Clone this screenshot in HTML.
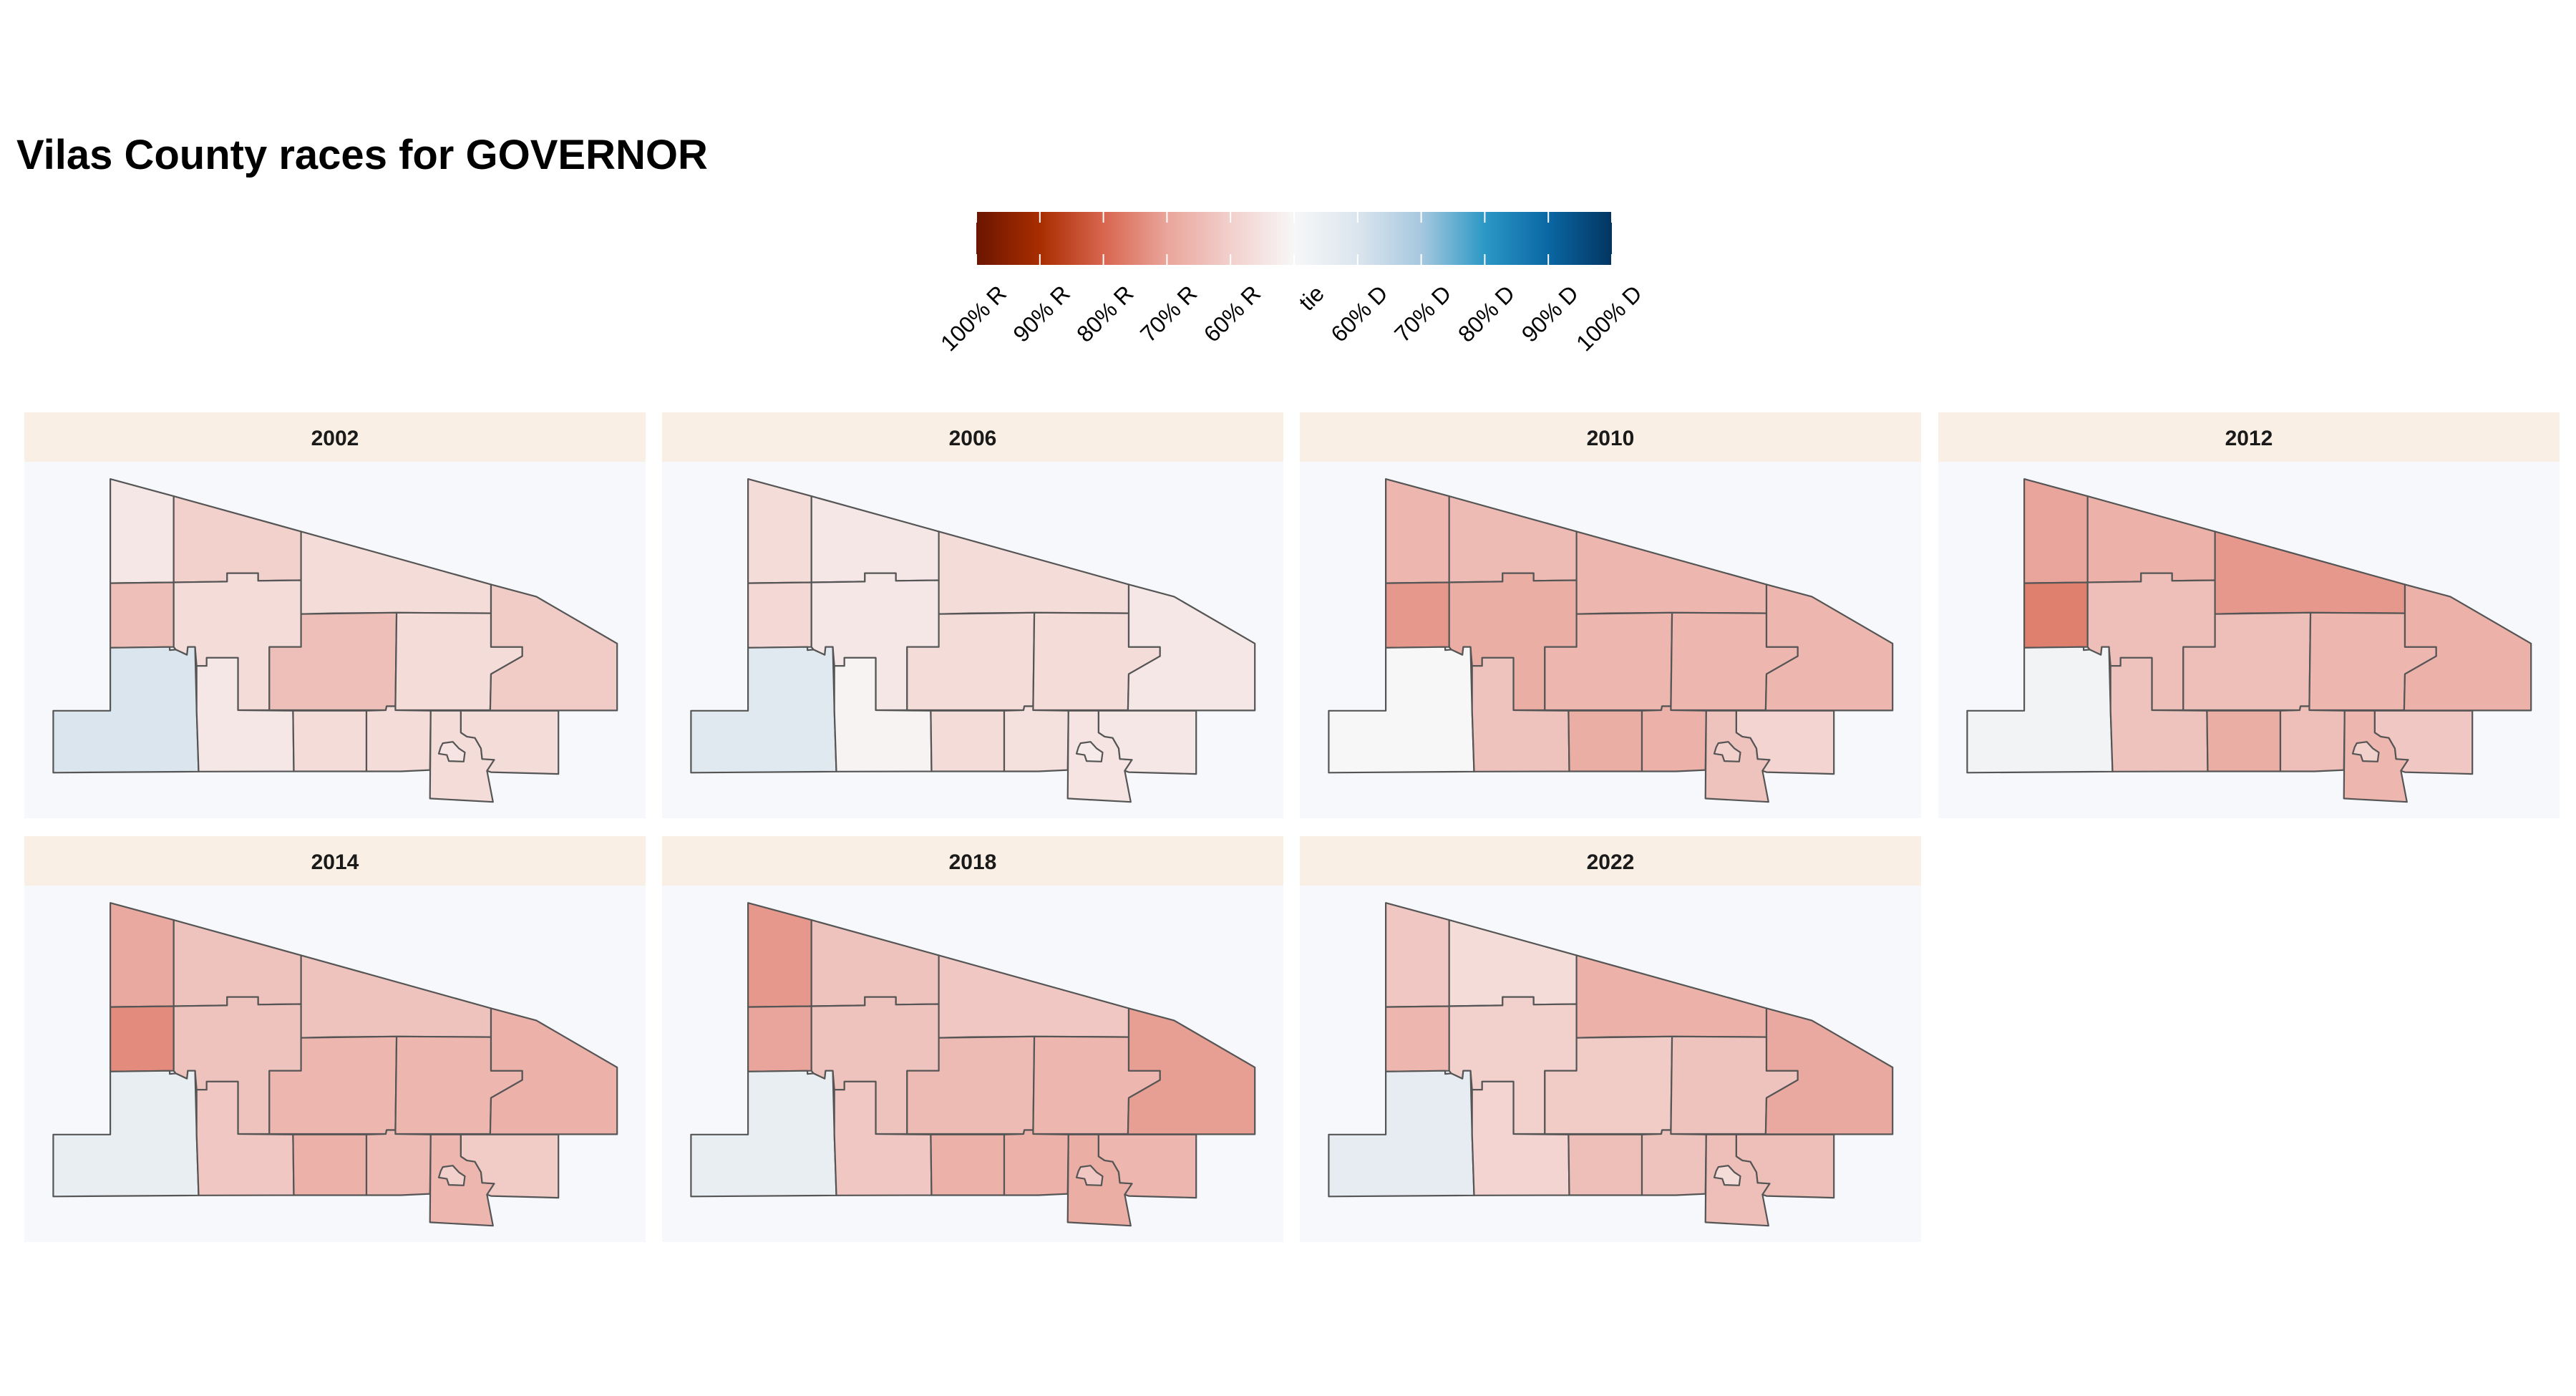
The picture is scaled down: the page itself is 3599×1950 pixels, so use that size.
<!DOCTYPE html>
<html><head><meta charset="utf-8">
<style>
html,body{margin:0;padding:0;background:#fff;}
body{width:3599px;height:1945px;overflow:hidden;font-family:"Liberation Sans",sans-serif;}
</style></head>
<body>
<svg id="chart" width="3599" height="1945" viewBox="0 0 3599 1945" xmlns="http://www.w3.org/2000/svg">
<defs>
<linearGradient id="legGrad" x1="0" x2="1" y1="0" y2="0">
<stop offset="0" stop-color="#6b1500"/><stop offset="0.1" stop-color="#a82d00"/>
<stop offset="0.2" stop-color="#d9654f"/><stop offset="0.3" stop-color="#e9a59b"/>
<stop offset="0.4" stop-color="#f2d0cc"/><stop offset="0.5" stop-color="#f7f7f7"/>
<stop offset="0.6" stop-color="#dbe5ee"/><stop offset="0.7" stop-color="#a6c8df"/>
<stop offset="0.8" stop-color="#2b98c5"/><stop offset="0.9" stop-color="#0a67a3"/>
<stop offset="1" stop-color="#023560"/>
</linearGradient>
</defs>
<text x="23" y="236" font-size="58" font-weight="bold" fill="#000">Vilas County races for GOVERNOR</text>
<g id="legend">
<rect x="1364" y="296" width="888" height="74" fill="url(#legGrad)"/>
</g>
<g id="panels"></g>
</svg>
<script>
// Legend
const legendLabels = ["100% R","90% R","80% R","70% R","60% R","tie","60% D","70% D","80% D","90% D","100% D"];
// Facet years
const years = ["2002","2006","2010","2012","2014","2018","2022"];
// Region order: A,B,C,D,E,F,G,H,I,J,K,L,M,N,hole — values are Republican share (%)
const v2002 = [54,60,64,57,40,54,57,64,57,61,57,57,57,57,55];
const v2006 = [57,54,58,54,42,51,57,57,57,54,57,56,55,54,53];
const v2010 = [66,65,72,68,50,63,66,66,66,66,68,67,63,59,60];
const v2012 = [70,67,76,64,48,63,72,64,66,67,68,64,66,62,60];
const v2014 = [69,63,74,63,45,62,63,66,66,67,67,65,66,61,60];
const v2018 = [72,63,70,63,45,62,62,65,66,71,67,67,68,66,62];
const v2022 = [62,57,66,60,44,59,67,61,63,69,64,63,64,64,57];
const values = [v2002,v2006,v2010,v2012,v2014,v2018,v2022];

const NS = "http://www.w3.org/2000/svg";
const legend = document.getElementById('legend');
const barX = 1364, barW = 888, barY = 296, barH = 74;
legendLabels.forEach((lab, i) => {
  const x = barX + barW * i / (legendLabels.length - 1);
  const t1 = document.createElementNS(NS, 'line');
  t1.setAttribute('x1', x); t1.setAttribute('x2', x); t1.setAttribute('y1', barY); t1.setAttribute('y2', barY + 15);
  t1.setAttribute('stroke', '#fff'); t1.setAttribute('stroke-width', '2');
  
  
  legend.appendChild(t1);
  const t2 = document.createElementNS(NS, 'line');
  t2.setAttribute('x1', x); t2.setAttribute('x2', x); t2.setAttribute('y1', barY + barH - 15); t2.setAttribute('y2', barY + barH);
  t2.setAttribute('stroke', '#fff'); t2.setAttribute('stroke-width', '2');
  
  
  legend.appendChild(t2);
  const tx = document.createElementNS(NS, 'text');
  const ax = x + 44, ay = 412;
  tx.setAttribute('x', ax); tx.setAttribute('y', ay);
  tx.setAttribute('transform', `rotate(-45 ${ax} ${ay})`);
  tx.setAttribute('text-anchor', 'end');
  tx.setAttribute('font-size', '32');
  tx.setAttribute('fill', '#000');
  tx.textContent = lab;
  
  
  legend.appendChild(tx);
});

// color scale: share R (%) -> color
const stops = [[0,"#6b1500"],[10,"#a82d00"],[20,"#d9654f"],[30,"#e9a59b"],[40,"#f2d0cc"],[50,"#f7f7f7"],[60,"#dbe5ee"],[70,"#a6c8df"],[80,"#2b98c5"],[90,"#0a67a3"],[100,"#023560"]];
function hex(c){return [1,3,5].map(i=>parseInt(c.substr(i,2),16));}
function colorFor(rShare){
  // 100R -> 0, 60R -> 40, tie -> 50, 60D -> 60, 100D -> 100
  const p = Math.max(0, Math.min(100, 100 - rShare));
  for (let i = 0; i < stops.length - 1; i++) {
    if (p >= stops[i][0] && p <= stops[i+1][0]) {
      const f = (p - stops[i][0]) / (stops[i+1][0] - stops[i][0]);
      const a = hex(stops[i][1]), b = hex(stops[i+1][1]);
      return `rgb(${a.map((v,k)=>Math.round(v+(b[k]-v)*f)).join(',')})`;
    }
  }
  return "#f7f7f7";
}

// map geometry (reference frame units)
const shapes = [
 [[222,268],[380,333],[380,660],[222,663]],
 [[380,333],[697,467],[697,652],[590,654],[590,625],[513,625],[513,657],[380,660]],
 [[222,663],[380,660],[380,905],[222,908]],
 [[380,660],[513,657],[513,625],[590,625],[590,654],[697,652],[697,905],[618,905],[618,1145],[540,1145],[540,946],[462,946],[462,977],[437,977],[433,905],[415,905],[413,935],[385,915],[380,905]],
 [[222,908],[370,905],[370,917],[385,915],[413,935],[415,905],[433,905],[437,1145],[442,1378],[80,1382],[80,1147],[222,1147]],
 [[437,977],[462,977],[462,946],[540,946],[540,1145],[677,1147],[679,1377],[442,1378],[437,1145]],
 [[697,467],[1170,668],[1170,777],[935,775],[775,777],[697,780]],
 [[697,780],[935,775],[932,1130],[910,1130],[908,1145],[618,1145],[618,905],[697,905]],
 [[935,775],[1170,777],[1170,905],[1248,905],[1248,940],[1170,1008],[1168,1145],[932,1145]],
 [[1170,668],[1283,714],[1484,892],[1484,1146],[1168,1146],[1170,1008],[1248,940],[1248,905],[1170,905]],
 [[677,1147],[860,1147],[860,1377],[679,1377]],
 [[860,1147],[908,1145],[910,1130],[932,1130],[932,1145],[1020,1147],[1018,1372],[945,1377],[860,1377]],
 [[1020,1147],[1095,1147],[1095,1230],[1110,1245],[1130,1250],[1145,1290],[1148,1330],[1178,1333],[1160,1375],[1175,1493],[1018,1480]],
 [[1095,1147],[1338,1147],[1338,1387],[1170,1380],[1160,1375],[1178,1333],[1148,1330],[1145,1290],[1130,1250],[1110,1245],[1095,1230]],
 [[1050,1270],[1075,1265],[1090,1290],[1105,1305],[1102,1340],[1065,1338],[1060,1315],[1040,1310],[1045,1285]]
];
const regionNames = ["region-a","region-b","region-c","region-d","region-e","region-f","region-g","region-h","region-i","region-j","region-k","region-l","region-m","region-n","region-town-hole"];

const colX = [34,925,1816,2708], rowY = [576,1168];
const pW = 868, pH = 567, stripH = 69;
const panels = document.getElementById('panels');
years.forEach((yr, idx) => {
  const px = colX[idx % 4], py = rowY[Math.floor(idx / 4)];
  const g = document.createElementNS(NS, 'g');
  
  
  const bg = document.createElementNS(NS, 'rect');
  bg.setAttribute('x', px); bg.setAttribute('y', py); bg.setAttribute('width', pW); bg.setAttribute('height', pH);
  bg.setAttribute('fill', '#f6f8fc');
  
  
  g.appendChild(bg);
  const st = document.createElementNS(NS, 'rect');
  st.setAttribute('x', px); st.setAttribute('y', py); st.setAttribute('width', pW); st.setAttribute('height', stripH);
  st.setAttribute('fill', '#faefe5');
  
  
  g.appendChild(st);
  const lt = document.createElementNS(NS, 'text');
  lt.setAttribute('x', px + pW / 2); lt.setAttribute('y', py + 46);
  lt.setAttribute('text-anchor', 'middle'); lt.setAttribute('font-size', '30'); lt.setAttribute('font-weight', 'bold'); lt.setAttribute('fill', '#1a1a1a');
  lt.textContent = yr;
  
  
  g.appendChild(lt);
  const sx = pW / 1547, sy = pH / 1540;
  shapes.forEach((pts, r) => {
    const poly = document.createElementNS(NS, 'polygon');
    poly.setAttribute('points', pts.map(p => `${(px + (p[0]-8)*sx).toFixed(1)},${(py + (p[1]-15)*sy).toFixed(1)}`).join(' '));
    poly.setAttribute('fill', colorFor(values[idx][r]));
    poly.setAttribute('stroke', '#555');
    poly.setAttribute('stroke-width', '2.2');
    poly.setAttribute('stroke-linejoin', 'round');
    
    
    g.appendChild(poly);
  });
  panels.appendChild(g);
});
</script>
</body></html>
